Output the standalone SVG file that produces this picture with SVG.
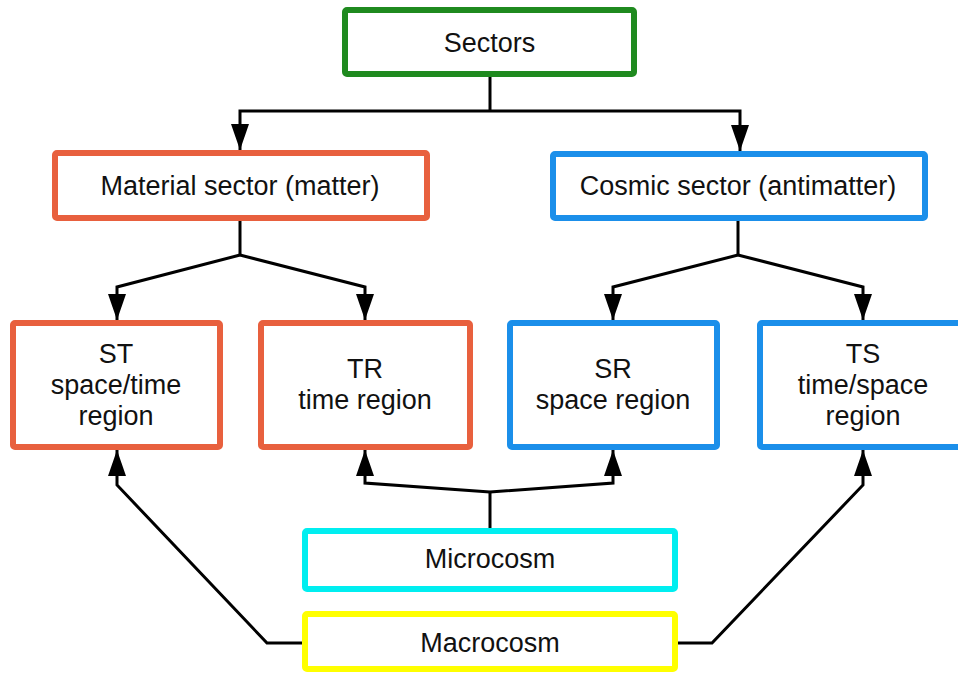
<svg xmlns="http://www.w3.org/2000/svg" width="958" height="674" viewBox="0 0 958 674">
<style>
.box{fill:#fff;stroke-width:6}
.g{stroke:#1f8a1f}.o{stroke:#e8603e}.b{stroke:#1b8fea}.c{stroke:#00eef0}.y{stroke:#ffff00}
text{font-family:"Liberation Sans",Arial,sans-serif;font-size:27px;fill:#111;text-anchor:middle}
.ln{fill:none;stroke:#000;stroke-width:3;stroke-linejoin:miter}
</style>
<defs>
<marker id="ah" markerUnits="userSpaceOnUse" markerWidth="28" markerHeight="20" refX="26" refY="9" orient="auto">
<path d="M0,0 L26,9 L0,18 z" fill="#000"/>
</marker>
</defs>
<g id="connectors">
<path class="ln" d="M490,77 V111"/>
<path class="ln" d="M490,111 H240 V150" marker-end="url(#ah)"/>
<path class="ln" d="M490,111 H740 V151" marker-end="url(#ah)"/>
<path class="ln" d="M240,220 V255"/>
<path class="ln" d="M240,255 L117,287 V320" marker-end="url(#ah)"/>
<path class="ln" d="M240,255 L365,287 V320" marker-end="url(#ah)"/>
<path class="ln" d="M738,221 V255"/>
<path class="ln" d="M738,255 L613,287 V320" marker-end="url(#ah)"/>
<path class="ln" d="M738,255 L863,287 V320" marker-end="url(#ah)"/>
<path class="ln" d="M490,528 V492"/>
<path class="ln" d="M490,492 L365,483 V450" marker-end="url(#ah)"/>
<path class="ln" d="M490,492 L613,483 V450" marker-end="url(#ah)"/>
<path class="ln" d="M302,643 H267 L117,485 V450" marker-end="url(#ah)"/>
<path class="ln" d="M678,643 H712 L863,485 V450" marker-end="url(#ah)"/>
</g>
<g id="sectors">
<rect class="box g" x="345" y="10" width="289" height="64" rx="2"/>
<text x="489.5" y="52">Sectors</text>
</g>
<g id="material">
<rect class="box o" x="55" y="153" width="372" height="65" rx="2"/>
<text x="240" y="195">Material sector (matter)</text>
</g>
<g id="cosmic">
<rect class="box b" x="553" y="154" width="372" height="64" rx="2"/>
<text x="738" y="195">Cosmic sector (antimatter)</text>
</g>
<g id="st">
<rect class="box o" x="13" y="323" width="207" height="124" rx="2"/>
<text x="116" y="363">ST</text>
<text x="116" y="394">space/time</text>
<text x="116" y="425">region</text>
</g>
<g id="tr">
<rect class="box o" x="261" y="323" width="209" height="124" rx="2"/>
<text x="365" y="378">TR</text>
<text x="365" y="409">time region</text>
</g>
<g id="sr">
<rect class="box b" x="510" y="323" width="207" height="124" rx="2"/>
<text x="613" y="378">SR</text>
<text x="613" y="409">space region</text>
</g>
<g id="ts">
<rect class="box b" x="760" y="323" width="209" height="124" rx="2"/>
<text x="863" y="363">TS</text>
<text x="863" y="394">time/space</text>
<text x="863" y="425">region</text>
</g>
<g id="microcosm">
<rect class="box c" x="305" y="531" width="370" height="58" rx="2"/>
<text x="490" y="568">Microcosm</text>
</g>
<g id="macrocosm">
<rect class="box y" x="305" y="614" width="370" height="55" rx="2"/>
<text x="490" y="652">Macrocosm</text>
</g>
</svg>
